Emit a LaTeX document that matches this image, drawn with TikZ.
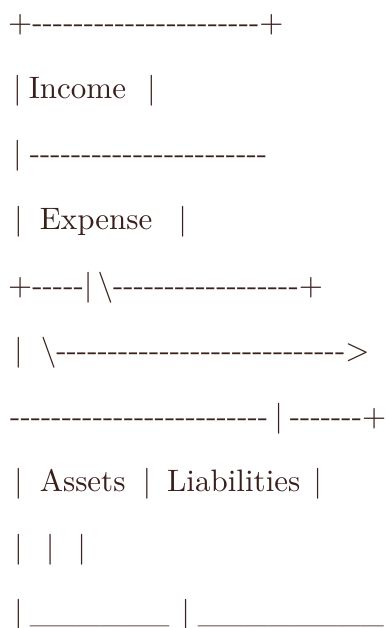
\documentclass[tikz,border=0pt]{standalone}
\usepackage{fontspec}
\usepackage{xcolor}
\usepackage{tikz}
\newfontfamily\asciifont{lmroman10-regular.otf}
\definecolor{inkbrown}{RGB}{58,32,28}
\newcommand{\dashrun}[1]{\foreach \k in {1,...,#1}{-}}
\newcommand{\underrun}[1]{\foreach \k in {1,...,#1}{\_}}
\tikzset{asciirow/.style={anchor=base west,inner sep=0pt,text=inkbrown,font={\asciifont\fontsize{31}{31}\selectfont}}}

\begin{document}
\begin{tikzpicture}[x=1pt,y=-1pt]
    \useasboundingbox (0,0) rectangle (385,628);
    % one node per text row, set on its baseline
    \node[asciirow] (top) at (8,33) {+\dashrun{22}+};
    \node[asciirow] (income) at (13,98.5) {|\hspace{7pt}Income\hspace{21pt}|};
    \node[asciirow] (split) at (13,164) {|\hspace{8pt}\dashrun{23}};
    \node[asciirow] (expense) at (14,229.5) {|\hspace{17pt}Expense\hspace{26pt}|};
    \node[asciirow] (fork) at (8,295) {+\dashrun{5}|\hspace{5pt}\textbackslash\dashrun{18}+};
    \node[asciirow] (flow) at (14,360.5) {|\hspace{18pt}\textbackslash\dashrun{28}\textgreater};
    \node[asciirow] (bottom) at (10,426) {\dashrun{25}\hspace{6pt}|\hspace{7pt}\dashrun{7}+};
    \node[asciirow] (accounts) at (14,491.5) {|\hspace{17pt}Assets\hspace{17pt}|\hspace{16pt}Liabilities\hspace{13pt}|};
    \node[asciirow] (posts) at (14,557) {|\hspace{23pt}|\hspace{23pt}|};
    \node[asciirow] (base) at (14,622.5) {|\hspace{7pt}\underrun{6}\hspace{12pt}|\hspace{8pt}\underrun{8}};
\end{tikzpicture}
\end{document}
